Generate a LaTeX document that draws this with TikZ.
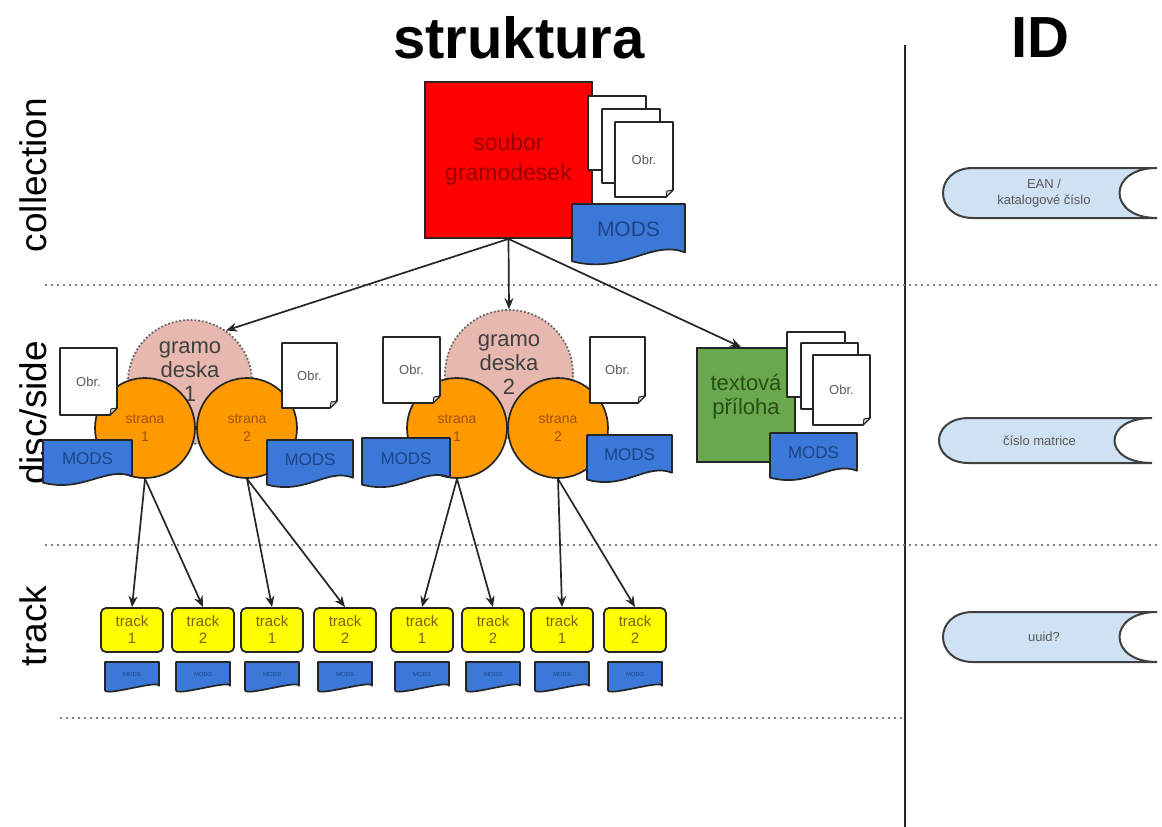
\documentclass[tikz,border=0pt]{standalone}
\usepackage{fontspec}
\setmainfont{Liberation Sans}
\usetikzlibrary{arrows.meta}
\definecolor{redbox}{HTML}{FF0000}
\definecolor{redtext}{HTML}{990000}
\definecolor{orangec}{HTML}{FF9900}
\definecolor{orangetext}{HTML}{A0520A}
\definecolor{pinkc}{HTML}{E6B8AF}
\definecolor{greenbox}{HTML}{6AA84F}
\definecolor{greentext}{HTML}{274E13}
\definecolor{modsblue}{HTML}{3C78D8}
\definecolor{modstext}{HTML}{1C4587}
\definecolor{trackyellow}{HTML}{FFFF00}
\definecolor{tracktext}{HTML}{7F6000}
\definecolor{idfill}{HTML}{CFE2F3}
\definecolor{edge}{HTML}{262626}
\tikzset{
  fsz/.style={font={\fontsize{#1}{#1}\selectfont}},
  arr/.style={-{Stealth[length=11pt,width=9pt]}, line width=1.7pt, draw=edge},
  sep/.style={draw=black!50, line width=1.8pt, dash pattern=on 2pt off 4pt},
  pageline/.style={draw=edge, line width=1.6pt, fill=white, line join=round},
  pagetext/.style={inner sep=0pt, text=black!65, fsz=13},
  modsshape/.style={draw=edge, line width=1.7pt, fill=modsblue, line join=round},
  modstextst/.style={inner sep=0pt, text=modstext},
  idshapest/.style={draw=black!75, line width=2pt, fill=idfill},
  idtext/.style={inner sep=0pt, text=black!65, align=center, font={\fontsize{13}{16}\selectfont}},
  gdcircle/.style={circle, draw=black!60, dotted, line width=1.8pt, fill=pinkc, inner sep=0pt},
  gdtext/.style={inner sep=0pt, align=center, text=black!75, font={\fontsize{22}{24}\selectfont}},
  stranac/.style={circle, draw=edge, line width=1.7pt, fill=orangec, minimum size=100pt, inner sep=0pt,
     align=center, text=orangetext, font={\fontsize{14}{18}\selectfont}},
  trackbox/.style={rectangle, rounded corners=5pt, draw=edge, line width=1.8pt, fill=trackyellow,
     minimum width=62pt, minimum height=44pt, inner sep=0pt, align=center, text=tracktext,
     font={\fontsize{15}{17}\selectfont}},
  sidelabel/.style={rotate=90, inner sep=0pt, font={\fontsize{37}{40}\selectfont}},
}
\newcommand\obrpage[6]{%
  \filldraw[pageline] (#2,#3) -- (#4,#3) -- (#4,{#5-7}) -- ({#4-7},#5) -- (#2,#5) -- cycle;
  \filldraw[pageline, fill=black!15, line width=1pt] (#4,{#5-7}) -- ({#4-6},{#5-6}) -- ({#4-7},#5) -- cycle;
  \node[pagetext] (#1) at ({(#2+#4)/2},{(#3+#5)/2}) {#6};
}
\newcommand\modsbox[7]{%
  \filldraw[modsshape] (#2,#3) -- (#4,#3) -- (#4,{#5-0.18*(#5-#3)})
     .. controls ({#4-0.3*(#4-#2)},{#5-0.4*(#5-#3)}) and ({#2+0.45*(#4-#2)},{#5+0.2*(#5-#3)}) ..
     (#2,{#5-0.03*(#5-#3)}) -- cycle;
  \node[modstextst, fsz=#6] (#1) at ({(#2+#4)/2},{#3+0.42*(#5-#3)}) {#7};
}
\newcommand\idbox[6]{%
  \filldraw[idshapest] ({#2+30},#3) -- (#4,#3) .. controls ({#4-50},#3) and ({#4-50},#5) .. (#4,#5)
     -- ({#2+30},#5) .. controls ({#2-10},#5) and ({#2-10},#3) .. ({#2+30},#3) -- cycle;
  \node[idtext] (#1) at ({(#2+#4)/2-6},{(#3+#5)/2}) {#6};
}
\begin{document}
\begin{tikzpicture}[x=1pt,y=-1pt]
\useasboundingbox (0,0) rectangle (1162,827);
\fill[white] (0,0) rectangle (1162,827);

% titles
\node[inner sep=0pt, font={\fontsize{58}{60}\selectfont\bfseries}] (title) at (519,38) {struktura};
\node[inner sep=0pt, font={\fontsize{58}{60}\selectfont\bfseries}] (idtitle) at (1040,38) {ID};
\draw[line width=1.8pt, draw=edge] (905,45) -- (905,827);

% level labels
\node[sidelabel] (lcoll) at (33,175) {collection};
\node[sidelabel] (ldisc) at (33,413) {disc/side};
\node[sidelabel] (ltrack) at (33,626) {track};

% separators
\draw[sep] (45,285) -- (1160,285);
\draw[sep] (45,545) -- (1160,545);
\draw[sep] (60,718) -- (903,718);

% collection
\node[rectangle, draw=edge, line width=1.8pt, fill=redbox, minimum width=167pt, minimum height=156pt,
      inner sep=0pt, align=center, text=redtext, font={\fontsize{23}{30}\selectfont}] (coll) at (508.5,160) {soubor\\gramodesek};
\obrpage{cp1}{588}{96}{646}{170}{}
\obrpage{cp2}{602}{109}{660}{183}{}
\obrpage{cp3}{615}{122}{673}{197}{Obr.}
\modsbox{cmods}{572}{204}{685}{263}{21}{MODS}

% disc 1
\node[gdcircle, minimum size=124pt] (gd1) at (190,382) {};
\node[gdtext] (gd1t) at (190,372) {gramo\\deska\\1};
\node[stranac] (s11) at (145,428) {strana\\1};
\node[stranac] (s12) at (247,428) {strana\\2};
\obrpage{p11}{60}{348}{117}{415}{Obr.}
\obrpage{p12}{282}{343}{337}{408}{Obr.}
\modsbox{m11}{43}{440}{132}{484}{17}{MODS}
\modsbox{m12}{267}{440}{353}{486}{17}{MODS}

% disc 2
\node[gdcircle, minimum size=128pt] (gd2) at (509,374) {};
\node[gdtext] (gd2t) at (509,365) {gramo\\deska\\2};
\node[stranac] (s21) at (457,428) {strana\\1};
\node[stranac] (s22) at (558,428) {strana\\2};
\obrpage{p21}{383}{337}{440}{403}{Obr.}
\obrpage{p22}{590}{337}{645}{403}{Obr.}
\modsbox{m21}{362}{438}{450}{486}{17}{MODS}
\modsbox{m22}{587}{435}{672}{481}{17}{MODS}

% textova priloha
\node[rectangle, draw=edge, line width=1.8pt, fill=greenbox, minimum width=98pt, minimum height=114pt,
      inner sep=0pt] (txt) at (746,405) {};
\node[inner sep=0pt, align=center, text=greentext, font={\fontsize{22}{24}\selectfont}] (txtt) at (746,397) {textová\\příloha};
\obrpage{tp1}{787}{332}{845}{397}{}
\obrpage{tp2}{801}{343}{858}{409}{}
\obrpage{tp3}{813}{355}{870}{425}{Obr.}
\modsbox{tmods}{770}{433}{857}{479}{17}{MODS}

% tracks
\foreach \n/\x/\t in {t1/132/1, t2/203/2, t3/272/1, t4/345/2, t5/422/1, t6/493/2, t7/562/1, t8/635/2}{
  \node[trackbox] (\n) at (\x,630) {track\\\t};
  \modsbox{\n m}{\x-27}{662}{\x+27}{691}{6}{MODS}
}

% connectors
\draw[arr] (coll.south) -- (gd1.55);
\draw[arr] (coll.south) -- (gd2.north);
\draw[arr] (coll.south) -- ([xshift=-5pt]txt.north);
\draw[arr] (s11.south) -- (t1.north);
\draw[arr] (s11.south) -- (t2.north);
\draw[arr] (s12.south) -- (t3.north);
\draw[arr] (s12.south) -- (t4.north);
\draw[arr] (s21.south) -- (t5.north);
\draw[arr] (s21.south) -- (t6.north);
\draw[arr] (s22.south) -- (t7.north);
\draw[arr] (s22.south) -- (t8.north);

% identifiers
\idbox{id1}{943}{168}{1157}{218}{EAN /\\katalogové číslo}
\idbox{id2}{939}{418}{1152}{463}{číslo matrice}
\idbox{id3}{943}{612}{1157}{662}{uuid?}
\end{tikzpicture}
\end{document}
